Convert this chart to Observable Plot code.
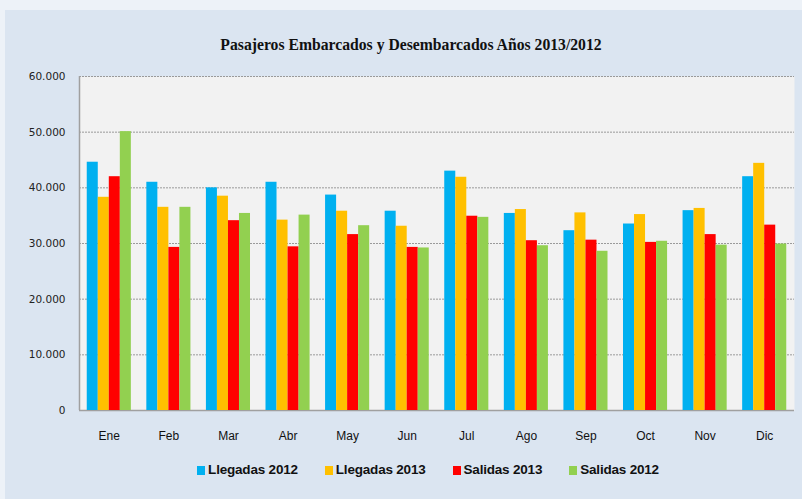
<!DOCTYPE html>
<html>
<head>
<meta charset="utf-8">
<script src="https://cdn.jsdelivr.net/npm/d3@7"></script>
<script src="https://cdn.jsdelivr.net/npm/@observablehq/plot@0.6"></script>
<style>
  html, body { margin: 0; padding: 0; }
  body { width: 802px; height: 499px; background: #edf2f8; position: relative; overflow: hidden; }
  #panel { position: absolute; left: 5px; top: 10px; width: 797px; height: 489px; background: #dbe5f1; }
  #title { position: absolute; left: 20px; top: 35px; width: 782px; text-align: center;
    font-family: "Liberation Serif", "DejaVu Serif", serif; font-weight: bold; font-size: 15.7px; color: #111; line-height: 20px; }
  .plot { position: absolute; left: 0; top: 62px; }
  #legend { position: absolute; left: 0; top: 461px; width: 856px; display: flex; justify-content: center; gap: 27px;
    font-family: "Liberation Sans", Arial, sans-serif; font-weight: bold; font-size: 13.5px; color: #111; line-height: 18px; letter-spacing: -0.2px; }
  #legend span.sw { display: inline-block; width: 8px; height: 9px; margin-right: 3px; vertical-align: -1px; }
</style>
</head>
<body>
<div id="panel"></div>
<div id="title">Pasajeros Embarcados y Desembarcados Años 2013/2012</div>
<div id="chart"></div>
<div id="legend"></div>
<script>
const months = ["Ene","Feb","Mar","Abr","May","Jun","Jul","Ago","Sep","Oct","Nov","Dic"];
const seriesNames = ["Llegadas 2012","Llegadas 2013","Salidas 2013","Salidas 2012"];
const seriesColors = ["#00b0f0","#ffc000","#ff0000","#92d050"];
const llegadas2012 = [44600, 41000, 40000, 41000, 38700, 35800, 43000, 35400, 32300, 33500, 35900, 42000];
const llegadas2013 = [38300, 36500, 38500, 34200, 35800, 33100, 41900, 36100, 35500, 35200, 36300, 44400];
const salidas2013  = [42000, 29300, 34100, 29400, 31600, 29300, 34900, 30500, 30600, 30200, 31600, 33300];
const salidas2012  = [50100, 36500, 35400, 35100, 33200, 29200, 34700, 29600, 28600, 30400, 29700, 29900];
const yTicks = [0, 10000, 20000, 30000, 40000, 50000, 60000];

const seriesValues = [llegadas2012, llegadas2013, salidas2013, salidas2012];
const data = [];
months.forEach((m, i) => seriesValues.forEach((vals, s) => data.push({month: m, series: seriesNames[s], value: vals[i]})));

const fmt = d => d === 0 ? "0" : d3.format(",")(d).replace(/,/g, ".");

const common = {
  width: 802, height: 388,
  marginLeft: 79, marginRight: 8, marginTop: 14, marginBottom: 40,
  style: {background: "transparent", overflow: "visible"}
};

const back = Plot.plot({
  ...common,
  x: {domain: [0, 1], axis: null},
  y: {domain: [0, 60000], ticks: yTicks, tickFormat: fmt, label: null},
  marks: [
    Plot.frame({fill: "#f2f2f2", stroke: null}),
    Plot.ruleY(yTicks.filter(d => d > 0), {stroke: "#9a9a9a", strokeDasharray: "2,1", strokeWidth: 1}),
    Plot.ruleY([0], {stroke: "#a0a0a0", strokeWidth: 1.5}),
    Plot.ruleX([0], {stroke: "#a0a0a0", strokeWidth: 1.5}),
    Plot.axisY({ticks: yTicks, tickFormat: fmt, tickSize: 0, tickPadding: 14, fontSize: 10.5, fill: "#222",
      fontFamily: "DejaVu Sans", label: null})
  ]
});
back.classList.add("plot");
document.getElementById("chart").appendChild(back);

const front = Plot.plot({
  ...common,
  fx: {domain: months, paddingInner: 0.26, paddingOuter: 0.13, round: false, label: null, axis: null},
  x: {domain: seriesNames, padding: 0, round: false, axis: null},
  y: {domain: [0, 60000], axis: null},
  color: {domain: seriesNames, range: seriesColors},
  marks: [
    Plot.barY(data, {fx: "month", x: "series", y: "value", fill: "series", inset: 0}),
    Plot.axisFx({anchor: "bottom", tickSize: 0, tickPadding: 21, fontSize: 12, fill: "#111", label: null,
      fontFamily: "Liberation Sans, Arial, sans-serif"})
  ]
});
front.classList.add("plot");
document.getElementById("chart").appendChild(front);

const legend = document.getElementById("legend");
seriesNames.forEach((name, i) => {
  const item = document.createElement("div");
  const sw = document.createElement("span");
  sw.className = "sw";
  sw.style.background = seriesColors[i];
  item.appendChild(sw);
  item.appendChild(document.createTextNode(name));
  legend.appendChild(item);
});
</script>
</body>
</html>
